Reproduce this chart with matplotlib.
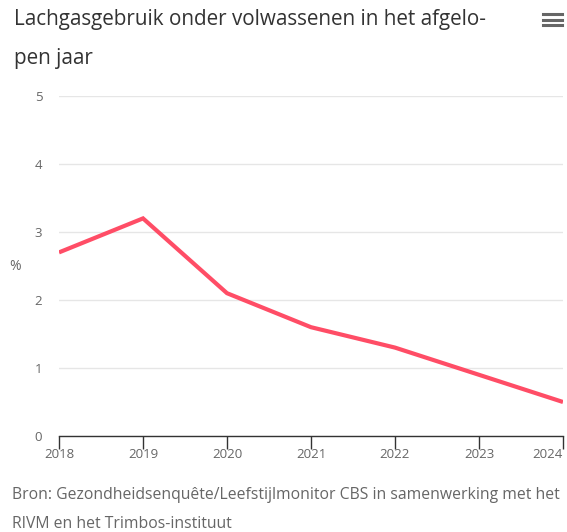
import matplotlib.pyplot as plt
from matplotlib.lines import Line2D

# Data
years = [2018, 2019, 2020, 2021, 2022, 2023, 2024]
percent = [2.7, 3.2, 2.1, 1.6, 1.3, 0.9, 0.5]
y_ticks = [0, 1, 2, 3, 4, 5]

title = "Lachgasgebruik onder volwassenen in het afgelo-\npen jaar"
source = ("Bron: Gezondheidsenquête/Leefstijlmonitor CBS in samenwerking met het\n"
          "RIVM en het Trimbos-instituut")

plt.rcParams['font.family'] = ['Open Sans', 'DejaVu Sans']

W, H = 567, 532
fig = plt.figure(figsize=(W / 100, H / 100), dpi=100)
ax = fig.add_axes([59 / W, 1 - 436 / H, (563 - 59) / W, (436 - 96) / H])

ax.plot(years, percent, color='#ff4d66', linewidth=3, solid_capstyle='butt',
        solid_joinstyle='miter', zorder=3)

ax.set_xlim(2018, 2024)
ax.set_ylim(0, 5)
ax.set_xticks(years)
ax.set_yticks(y_ticks)
ax.grid(axis='y', color='#e6e6e6', linewidth=1)
ax.set_axisbelow(True)

for side in ['top', 'right', 'left']:
    ax.spines[side].set_visible(False)
ax.spines['bottom'].set_color('#333333')
ax.spines['bottom'].set_linewidth(1)

ax.tick_params(axis='x', direction='out', length=9, width=1, color='#333333',
               labelsize=9.5, labelcolor='#666666', pad=0)
ax.tick_params(axis='y', length=0, labelsize=9.5, labelcolor='#666666', pad=12)
ax.set_ylabel('%', rotation=0, fontsize=10, color='#666666', labelpad=14, va='center')

# keep the last year label inside the figure, as in the reference
fig.canvas.draw()
ax.get_xticklabels()[-1].set_horizontalalignment('right')

fig.text(14 / W, 1 - 9 / H, title, ha='left', va='top', fontsize=14.9,
         color='#333333', linespacing=2.15)
fig.text(12 / W, 1 - 487 / H, source, ha='left', va='top', fontsize=11.3,
         color='#666666', linespacing=2.05)

# menu icon in top right corner
for yy in [14, 19.5, 25]:
    fig.add_artist(Line2D([543 / W, 562 / W], [1 - yy / H, 1 - yy / H],
                          color='#666666', linewidth=2.2))

fig.savefig('out.png', dpi=100)
